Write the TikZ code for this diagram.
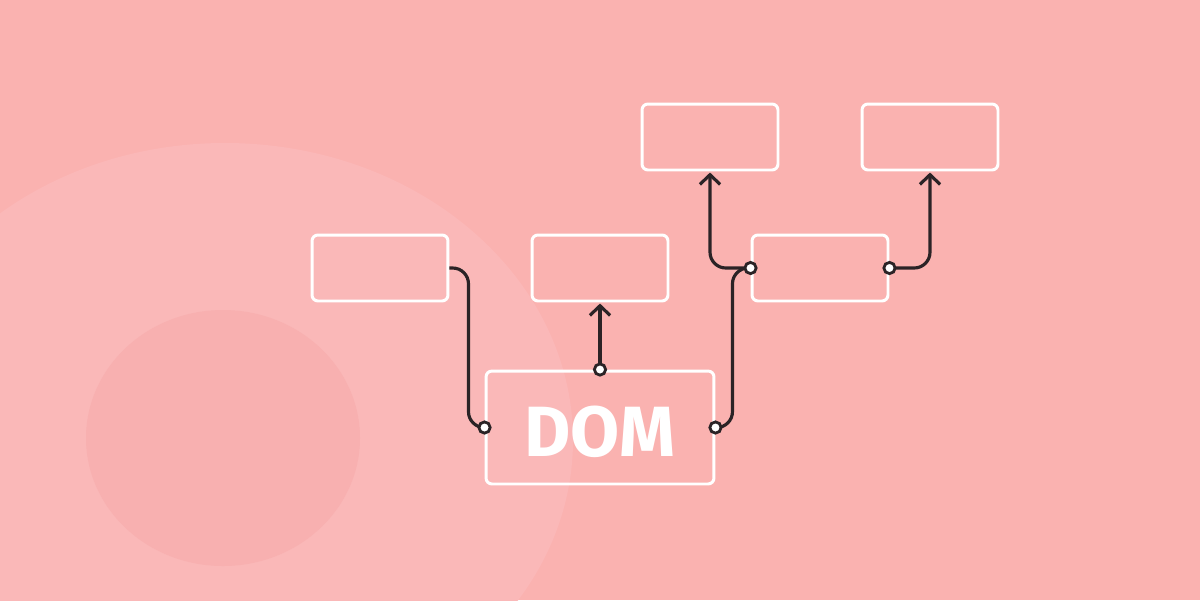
\documentclass[tikz,border=0pt]{standalone}
\usepackage{fontspec}
\setmainfont{Fira Sans}
\usetikzlibrary{arrows.meta}
\definecolor{bg}{HTML}{FAB2B0}
\definecolor{bigell}{HTML}{FAB8B8}
\definecolor{smallell}{HTML}{F8B0B0}
\definecolor{wirec}{HTML}{2B2326}
\tikzset{
  box/.style={draw=white, line width=1.7pt, rounded corners=3.4pt, minimum width=2.72cm, minimum height=1.32cm, inner sep=0pt},
  bigbox/.style={box, minimum width=4.56cm, minimum height=2.26cm},
  wire/.style={draw=wirec, line width=1.8pt, rounded corners=9pt},
  arr/.style={-{Straight Barb[length=5.5pt,width=11.5pt]}, shorten >=0.6pt},
  dot/.style={circle, draw=wirec, fill=white, line width=1.6pt, minimum size=6.4pt, inner sep=0pt},
  domtext/.style={text=white, font=\fontsize{40.5}{40.5}\selectfont\bfseries, inner sep=0pt}
}
\begin{document}
\begin{tikzpicture}[x=0.02cm,y=-0.02cm]
\path[use as bounding box, fill=bg] (0,0) rectangle (1200,600);
\begin{scope}
\clip (0,0) rectangle (1200,600);
\fill[bigell] (225,440) ellipse [x radius=348, y radius=297];
\fill[smallell] (223,438) ellipse [x radius=137, y radius=128];
\end{scope}
\node[box] (A) at (380,268) {};
\node[box] (B) at (600,268) {};
\node[box] (C) at (820,268) {};
\node[box] (D) at (710,137) {};
\node[box] (E) at (930,137) {};
\node[bigbox] (DOM) at (600,427.5) {};
\node[domtext] (domlabel) at ([yshift=-2.5pt]DOM.center) {DOM};
\draw[wire] (A.east) -- ++(19,0) |- (DOM.west);
\draw[wire, arr] (DOM.north) -- (B.south);
\draw[wire] (DOM.east) -- ++(17,0) |- (C.west);
\draw[wire, arr] (C.west) -| (D.south);
\draw[wire, arr] (C.east) -| (E.south);
\node[dot] (d1) at (DOM.west) {};
\node[dot] (d2) at (DOM.north) {};
\node[dot] (d3) at (DOM.east) {};
\node[dot] (d4) at (C.west) {};
\node[dot] (d5) at (C.east) {};
\end{tikzpicture}
\end{document}
